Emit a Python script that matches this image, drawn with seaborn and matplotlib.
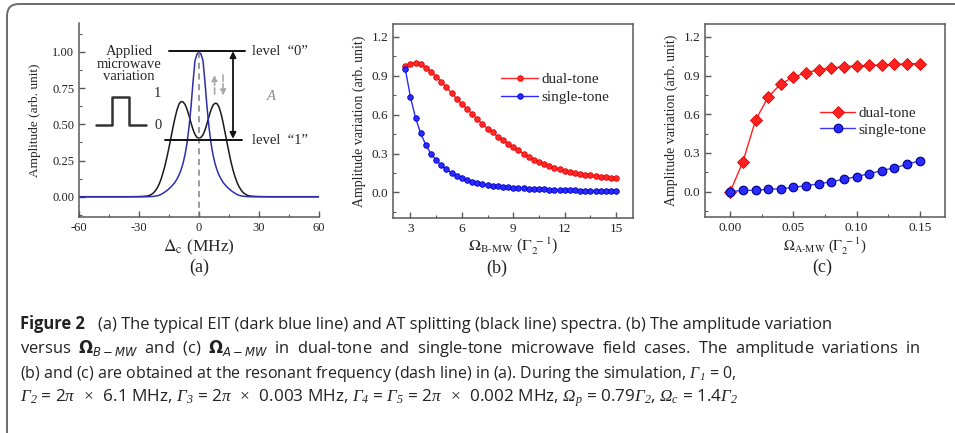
import matplotlib

matplotlib.use("Agg", force=True)
import matplotlib.pyplot as plt
import matplotlib.transforms as mtransforms
import seaborn as sns
from matplotlib.patches import FancyBboxPatch
from matplotlib.ticker import FormatStrFormatter, MultipleLocator

# ---- panel (a): EIT / AT spectra ----
detuning = [-60, -45, -35, -30, -28, -26, -25, -24, -23, -22, -21, -20, -19, -18, -17, -16,
            -15, -14, -13, -12, -11, -10, -9, -8, -7, -6, -5, -4, -3, -2, -1, 0,
            1, 2, 3, 4, 5, 6, 7, 8, 9, 10, 11, 12, 13, 14, 15, 16,
            17, 18, 19, 20, 21, 22, 23, 24, 25, 26, 28, 30, 35, 45, 60]
eit_amp = [0.0, 0.0, 0.0, 0.0, 0.0, 0.0, 0.0005, 0.001, 0.002, 0.004, 0.006, 0.010, 0.016, 0.024, 0.033, 0.043,
           0.055, 0.068, 0.083, 0.100, 0.123, 0.150, 0.185, 0.230, 0.290, 0.370, 0.480, 0.620, 0.790, 0.940, 0.985, 1.0,
           0.985, 0.940, 0.790, 0.620, 0.480, 0.370, 0.290, 0.230, 0.185, 0.150, 0.123, 0.100, 0.083, 0.068, 0.055, 0.043,
           0.033, 0.024, 0.016, 0.010, 0.006, 0.004, 0.002, 0.001, 0.0005, 0.0, 0.0, 0.0, 0.0, 0.0, 0.0]
at_amp = [0.0, 0.0, 0.0, 0.001, 0.002, 0.005, 0.008, 0.014, 0.024, 0.038, 0.058, 0.085, 0.120, 0.165, 0.215, 0.275,
          0.340, 0.410, 0.480, 0.545, 0.600, 0.640, 0.657, 0.655, 0.638, 0.605, 0.560, 0.510, 0.465, 0.430, 0.410, 0.405,
          0.410, 0.428, 0.460, 0.505, 0.555, 0.600, 0.632, 0.646, 0.643, 0.620, 0.575, 0.515, 0.445, 0.375, 0.305, 0.240,
          0.185, 0.138, 0.100, 0.070, 0.047, 0.030, 0.019, 0.011, 0.006, 0.004, 0.002, 0.001, 0.0, 0.0, 0.0]

# ---- panel (b): amplitude variation vs Omega_B-MW ----
omega_b = [2.7, 3.0, 3.3, 3.6, 3.9, 4.2, 4.5, 4.8, 5.1, 5.4, 5.7, 6.0, 6.3, 6.6, 6.9, 7.2, 7.5, 7.8, 8.1, 8.4, 8.7,
           9.0, 9.3, 9.6, 9.9, 10.2, 10.5, 10.8, 11.1, 11.4, 11.7, 12.0, 12.3, 12.6, 12.9, 13.2, 13.5, 13.8, 14.1,
           14.4, 14.7, 15.0]
dual_b = [0.976, 0.994, 0.999, 0.989, 0.964, 0.933, 0.894, 0.856, 0.810, 0.768, 0.722, 0.683, 0.645, 0.606,
          0.565, 0.527, 0.493, 0.463, 0.429, 0.403, 0.375, 0.349, 0.326, 0.298, 0.274, 0.252, 0.233, 0.217,
          0.203, 0.190, 0.179, 0.168, 0.159, 0.151, 0.144, 0.137, 0.131, 0.126, 0.121, 0.117, 0.113, 0.109]
single_b = [0.951, 0.737, 0.573, 0.455, 0.365, 0.298, 0.249, 0.208, 0.177, 0.151, 0.126, 0.108, 0.095, 0.082,
            0.072, 0.064, 0.056, 0.051, 0.046, 0.041, 0.038, 0.036, 0.033, 0.031, 0.029, 0.027, 0.025, 0.023,
            0.021, 0.020, 0.018, 0.017, 0.016, 0.015, 0.014, 0.013, 0.012, 0.011, 0.010, 0.009, 0.009, 0.008]

# ---- panel (c): amplitude variation vs Omega_A-MW ----
omega_a = [0.00, 0.01, 0.02, 0.03, 0.04, 0.05, 0.06, 0.07, 0.08, 0.09, 0.10, 0.11, 0.12, 0.13, 0.14, 0.15]
dual_c = [0.0, 0.231, 0.553, 0.733, 0.836, 0.887, 0.923, 0.944, 0.959, 0.969, 0.975, 0.979, 0.982, 0.987,
          0.990, 0.993]
single_c = [0.0, 0.008, 0.010, 0.017, 0.022, 0.032, 0.046, 0.059, 0.077, 0.095, 0.116, 0.139, 0.162, 0.185,
            0.211, 0.239]

series_labels = ["dual-tone", "single-tone"]

caption_lines = [
    "(a) The typical EIT (dark blue line) and AT splitting (black line) spectra. (b) The amplitude variation",
    r"versus $\mathbf{\Omega}_{B-MW}$ and (c) $\mathbf{\Omega}_{A-MW}$ in dual-tone and single-tone microwave "
    r"field cases. The amplitude variations in",
    r"(b) and (c) are obtained at the resonant frequency (dash line) in (a). During the simulation, "
    r"$\Gamma_1$ = 0,",
    r"$\Gamma_2$ = 2$\pi$  $\times$  6.1 MHz, $\Gamma_3$ = 2$\pi$  $\times$  "
    r"0.003 MHz, $\Gamma_4$ = $\Gamma_5$ = 2$\pi$  $\times$  0.002 MHz, "
    r"$\Omega_p$ = 0.79$\Gamma_2$, $\Omega_c$ = 1.4$\Gamma_2$",
]

W, H = 955, 433
SPINE = "#5a5a5a"
CAP_FONT = ["Open Sans", "DejaVu Sans"]


def set_style() -> None:
    sns.set_theme(style="ticks")
    plt.rcParams["font.family"] = ["Liberation Serif", "DejaVu Serif"]
    plt.rcParams["mathtext.fontset"] = "stix"
    plt.rcParams["axes.unicode_minus"] = False
    # italic serif maths for the caption symbols (used through math_fontfamily="custom")
    plt.rcParams["mathtext.rm"] = "Liberation Serif:italic"
    plt.rcParams["mathtext.it"] = "Liberation Serif:italic"
    plt.rcParams["mathtext.bf"] = "Liberation Serif:bold:italic"


def px_axes(fig, x0, x1, y0, y1):
    # pixel box (top-left origin) -> figure axes
    return fig.add_axes([x0 / W, 1 - y1 / H, (x1 - x0) / W, (y1 - y0) / H])


def style_axes(ax, box=True, labelsize=9.5):
    for side in ["left", "bottom", "top", "right"]:
        ax.spines[side].set_color(SPINE)
        ax.spines[side].set_linewidth(1.1)
        ax.spines[side].set_visible(box or side in ("left", "bottom"))
    ax.tick_params(which="both", direction="in", color=SPINE, labelsize=labelsize,
                   top=False, right=False, labelcolor="#222222")
    ax.tick_params(which="major", length=4, width=1)
    ax.tick_params(which="minor", length=2, width=0.8)
    ax.grid(False)


def panel_a(fig):
    ax = px_axes(fig, 79, 319, 23, 217)
    sns.lineplot(x=detuning, y=at_amp, ax=ax, color="#1a1a1a", linewidth=1.1)
    sns.lineplot(x=detuning, y=eit_amp, ax=ax, color="#2e2ea8", linewidth=1.1)
    ax.set_xlim(-60, 60)
    ax.set_ylim(-0.14, 1.2)
    ax.xaxis.set_major_locator(MultipleLocator(30))
    ax.xaxis.set_minor_locator(MultipleLocator(15))
    ax.yaxis.set_major_locator(MultipleLocator(0.25))
    ax.yaxis.set_minor_locator(MultipleLocator(0.125))
    ax.yaxis.set_major_formatter(FormatStrFormatter("%.2f"))
    style_axes(ax, box=False, labelsize=9)
    ax.set_xlabel(r"$\Delta_{\rm c}$ (MHz)", fontsize=12.5, labelpad=3)
    ax.set_ylabel("Amplitude (arb. unit)", fontsize=9.5, labelpad=8)

    # resonance marker
    ax.plot([0, 0], [1.0, -0.14], color="#808080", lw=1.1, ls=(0, (4, 3)))
    # level lines and the A arrow
    ax.plot([-14.8, 22.9], [1.01, 1.01], color="#111111", lw=1.4)
    ax.plot([-17, 21.5], [0.393, 0.393], color="#111111", lw=1.4)
    ax.annotate("", xy=(17, 0.40), xytext=(17, 1.005),
                arrowprops=dict(arrowstyle="<|-|>", color="#111111", lw=1.3, mutation_scale=9,
                                shrinkA=0, shrinkB=0))
    ax.text(26.4, 1.0, "level  \u201c0\u201d", fontsize=10.5, va="center", ha="left")
    ax.text(26.4, 0.385, "level  \u201c1\u201d", fontsize=10.5, va="center", ha="left")
    ax.text(34, 0.69, "A", fontsize=10.5, style="italic", color="#8a8a8a", va="center")
    ax.annotate("", xy=(7.8, 0.86), xytext=(7.8, 0.69),
                arrowprops=dict(arrowstyle="-|>", color="#a8a8a8", lw=1.2, ls="--", mutation_scale=8))
    ax.annotate("", xy=(12.0, 0.68), xytext=(12.0, 0.86),
                arrowprops=dict(arrowstyle="-|>", color="#a8a8a8", lw=1.2, ls="--", mutation_scale=8))

    # applied microwave inset
    ax.text(-35, 1.045, "Applied\nmicrowave\nvariation", fontsize=10.5, ha="center", va="top",
            linespacing=0.95)
    ax.plot([-51.7, -43.3, -43.3, -34.9, -34.9, -26.5], [0.497, 0.497, 0.69, 0.69, 0.497, 0.497],
            color="#333333", lw=1.8)
    ax.text(-22.4, 0.715, "1", fontsize=10.5, va="center", ha="left")
    ax.text(-22.4, 0.49, "0", fontsize=10.5, va="center", ha="left")
    fig.text(199 / W, 1 - 267 / H, "(a)", fontsize=13, ha="center", va="center")


def panel_b(fig):
    ax = px_axes(fig, 393.3, 633.3, 24, 218.3)
    sns.lineplot(x=omega_b, y=dual_b, ax=ax, color="#ff2a2a", linewidth=1.0, marker="o",
                 markersize=4, markeredgecolor="#e80000", markeredgewidth=0.6, label=series_labels[0])
    sns.lineplot(x=omega_b, y=single_b, ax=ax, color="#2b2bff", linewidth=1.0, marker="o",
                 markersize=4, markeredgecolor="#0000c8", markeredgewidth=0.6, label=series_labels[1])
    ax.set_xlim(2, 16)
    ax.set_ylim(-0.2, 1.3)
    ax.xaxis.set_major_locator(MultipleLocator(3))
    ax.xaxis.set_minor_locator(MultipleLocator(1.5))
    ax.yaxis.set_major_locator(MultipleLocator(0.3))
    ax.yaxis.set_minor_locator(MultipleLocator(0.15))
    ax.yaxis.set_major_formatter(FormatStrFormatter("%.1f"))
    style_axes(ax, box=True, labelsize=9.5)
    ax.set_xlabel("$\\Omega_{\\rm B\u2010MW}$ ($\\Gamma_2^{\\ -1}$)", fontsize=11.5, labelpad=0)
    ax.set_ylabel("Amplitude variation (arb. unit)", fontsize=10, labelpad=4)
    ax.legend(loc="center left", bbox_to_anchor=(0.45, 0.669), frameon=False, fontsize=11,
              handlelength=2.4, handletextpad=0.2, labelspacing=0.25, borderpad=0, borderaxespad=0)
    fig.text(497 / W, 1 - 268 / H, "(b)", fontsize=13, ha="center", va="center")


def panel_c(fig):
    ax = px_axes(fig, 705, 945, 24, 217.3)
    sns.lineplot(x=omega_a, y=dual_c, ax=ax, color="#ff2020", linewidth=1.0, marker="D",
                 markersize=6.2, markeredgecolor="#e00000", markeredgewidth=0.6, label=series_labels[0])
    sns.lineplot(x=omega_a, y=single_c, ax=ax, color="#3b3bf0", linewidth=1.0, marker="o",
                 markersize=6.2, markerfacecolor="#2a2aff", markeredgecolor="#00008a",
                 markeredgewidth=0.8, label=series_labels[1])
    ax.set_xlim(-0.02, 0.17)
    ax.set_ylim(-0.2, 1.3)
    ax.xaxis.set_major_locator(MultipleLocator(0.05))
    ax.xaxis.set_minor_locator(MultipleLocator(0.025))
    ax.xaxis.set_major_formatter(FormatStrFormatter("%.2f"))
    ax.yaxis.set_major_locator(MultipleLocator(0.3))
    ax.yaxis.set_minor_locator(MultipleLocator(0.15))
    ax.yaxis.set_major_formatter(FormatStrFormatter("%.1f"))
    style_axes(ax, box=True, labelsize=9.5)
    ax.set_xlabel("$\\Omega_{\\rm A\u2010MW}$ ($\\Gamma_2^{\\ -1}$)", fontsize=10.5, labelpad=1)
    ax.set_ylabel("Amplitude variation (arb. unit)", fontsize=10, labelpad=4)
    ax.legend(loc="center left", bbox_to_anchor=(0.48, 0.496), frameon=False, fontsize=11,
              handlelength=2.3, handletextpad=0.2, labelspacing=0.2, borderpad=0, borderaxespad=0)
    fig.text(822 / W, 1 - 267 / H, "(c)", fontsize=13, ha="center", va="center")


def caption(fig):
    size = 11.9
    x0 = 20.5 / W
    baselines = [329, 353.3, 377.5, 401.7]
    head = fig.text(x0, 1 - baselines[0] / H, "Figure 2", family=CAP_FONT, fontsize=size,
                    fontweight="bold", va="baseline", color="#222222")
    fig.canvas.draw()
    bb = head.get_window_extent()
    fig.text((bb.x1 + 12.5) / W, 1 - baselines[0] / H, caption_lines[0], family=CAP_FONT,
             fontsize=size, va="baseline", color="#222222")
    # the set caption runs its second line wider, so widen the word gaps there
    fig.text(x0, 1 - baselines[1] / H, caption_lines[1].replace(" ", "\u2002"), family=CAP_FONT,
             fontsize=size, va="baseline", color="#222222", math_fontfamily="dejavusans")
    fig.text(x0, 1 - baselines[2] / H, caption_lines[2], family=CAP_FONT, fontsize=size - 0.4,
             va="baseline", color="#222222", math_fontfamily="custom")
    fig.text(x0, 1 - baselines[3] / H, caption_lines[3], family=CAP_FONT,
             fontsize=size + 0.4, va="baseline", color="#222222", math_fontfamily="custom")


def main() -> None:
    set_style()
    fig = plt.figure(figsize=(W / 100, H / 100), dpi=100)
    frame = FancyBboxPatch((7, -30), 1000, H - 4 + 30, boxstyle="round,pad=0,rounding_size=12",
                           transform=mtransforms.IdentityTransform(), facecolor="none",
                           edgecolor="#6a6a6a", linewidth=1.4)
    fig.add_artist(frame)
    panel_a(fig)
    panel_b(fig)
    panel_c(fig)
    caption(fig)
    fig.savefig("out.png", dpi=100)
    plt.close(fig)


if __name__ == "__main__":
    main()
